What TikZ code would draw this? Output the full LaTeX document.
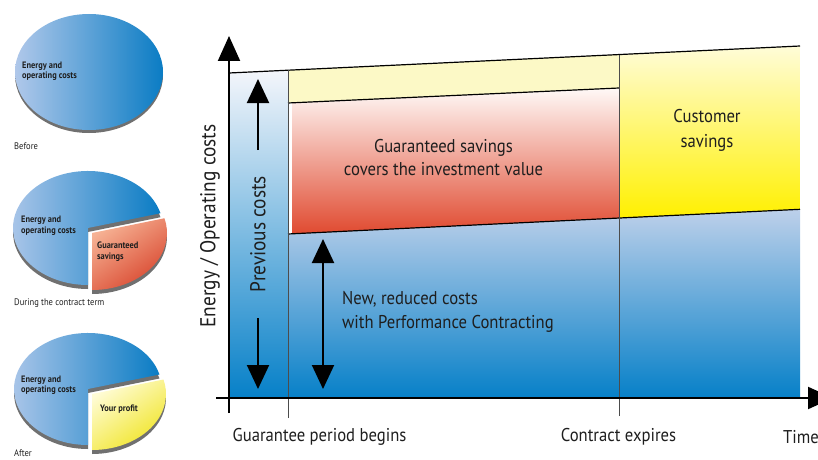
\documentclass[tikz,border=0pt]{standalone}
\usepackage{fontspec}
\setmainfont[FakeStretch=0.9]{PT Sans}
\usetikzlibrary{arrows.meta}
\definecolor{txt}{HTML}{1E1E1E}
\definecolor{blueTop}{HTML}{BDD0EA}
\definecolor{blueMid}{HTML}{8CADDD}
\definecolor{blueBot}{HTML}{0680C8}
\definecolor{stripTop}{HTML}{F4F6FB}
\definecolor{stripMid}{HTML}{B2C7E8}
\definecolor{redTop}{HTML}{FFF9F7}
\definecolor{redMid}{HTML}{F2B49A}
\definecolor{redBot}{HTML}{E04A30}
\definecolor{paleYel}{HTML}{FCF9C6}
\definecolor{yelTop}{HTML}{FFFCD8}
\definecolor{yelBot}{HTML}{FFF000}
\definecolor{pieL}{HTML}{B0C8EA}
\definecolor{pieR}{HTML}{0A7CC4}
\definecolor{pieShadow}{HTML}{707070}
\definecolor{sliceRedA}{HTML}{F6B294}
\definecolor{sliceRedB}{HTML}{D8442C}
\definecolor{sliceYelA}{HTML}{FFFCD6}
\definecolor{sliceYelB}{HTML}{F0E422}
\begin{document}
\begin{tikzpicture}[x=1pt,y=1pt,
  bigtext/.style={text=txt,font=\fontsize{18.5}{23}\selectfont,inner sep=0pt},
  vertext/.style={text=txt,font=\fontsize{21.5}{24}\selectfont,inner sep=0pt,rotate=90},
  pietext/.style={text=txt,font=\bfseries\fontsize{9.3}{10.5}\selectfont,inner sep=0pt,align=left,anchor=west},
  captext/.style={text=txt,font=\fontsize{9.5}{10}\selectfont,inner sep=0pt,anchor=west},
  boundary/.style={draw=black,line width=1.2pt},
  marker/.style={draw=black!70,line width=0.8pt},
  axis/.style={draw=black,line width=2pt,-{Triangle[length=25pt,width=22pt]}},
  costarrow/.style={draw=black,line width=2pt,-{Triangle[length=24pt,width=22pt]}},
  costdouble/.style={draw=black,line width=2pt,{Triangle[length=24pt,width=22pt]}-{Triangle[length=24pt,width=22pt]}}
]
\useasboundingbox (0,0) rectangle (818,459);
\clip (0,0) rectangle (818,459);

% ---------- chart regions ----------
\shade[top color=stripTop, middle color=stripMid, bottom color=blueBot]
  (229,61) -- (288,61) -- (288,388.8) -- (229,386) -- cycle;
\shade[top color=blueTop, middle color=blueMid, bottom color=blueBot]
  (288,61) -- (800,61) -- (800,249.7) -- (288,225) -- cycle;
\fill[white] (288,225) -- (619,241) -- (619,371) -- (288,356) -- cycle;
\shade[top color=redTop, middle color=redMid, bottom color=redBot]
  (292,225.2) -- (619,241) -- (619,371) -- (292,356.2) -- cycle;
\fill[paleYel] (288,356) -- (619,371) -- (619,404.4) -- (288,388.8) -- cycle;
\shade[top color=yelTop, bottom color=yelBot]
  (619,241) -- (800,249.7) -- (800,413) -- (619,404.4) -- cycle;

% ---------- boundaries ----------
\coordinate (tl) at (229,386);
\coordinate (tr) at (800,413);
\coordinate (rtl) at (288,356);
\coordinate (rtr) at (619,371);
\coordinate (btl) at (288,225);
\coordinate (btr) at (800,249.7);
\draw[boundary] (tl) -- (tr);
\draw[boundary] (rtl) -- (rtr);
\draw[boundary] (btl) -- (btr);
\coordinate (gb1) at (288,41);
\coordinate (gb2) at (288,388.8);
\coordinate (ce1) at (619,43);
\coordinate (ce2) at (619,404.4);
\draw[marker] (gb1) -- (gb2);
\draw[marker] (ce1) -- (ce2);

% ---------- axes ----------
\coordinate (yb) at (229,46);
\coordinate (yt) at (229,423);
\coordinate (xl) at (216,61);
\coordinate (xr) at (833,61);
\draw[axis] (yb) -- (yt);
\draw[axis] (xl) -- (xr);

% ---------- arrows ----------
\coordinate (pu1) at (258,309);
\coordinate (pu2) at (258,380);
\coordinate (pd1) at (258,141);
\coordinate (pd2) at (258,70);
\draw[costarrow] (pu1) -- (pu2);
\draw[costarrow] (pd1) -- (pd2);
\coordinate (nd1) at (323,70);
\coordinate (nd2) at (323,220);
\draw[costdouble] (nd1) -- (nd2);

% ---------- chart texts ----------
\node[vertext] (ylab) at (210,233) {Energy / Operating costs};
\node[vertext] (prev) at (258,225) {Previous costs};
\node[bigtext,align=center] (gs) at (443.5,301.5) {Guaranteed savings\\covers the investment value};
\node[bigtext,align=center,font=\fontsize{18.5}{25}\selectfont] (cs) at (707,328.5) {Customer\\savings};
\node[bigtext,align=left,anchor=west,font=\fontsize{18.5}{24}\selectfont] (nr) at (342,147) {New, reduced costs\\with Performance Contracting};
\node[bigtext] (gpb) at (319.5,22) {Guarantee period begins};
\node[bigtext] (cex) at (618.5,22) {Contract expires};
\node[bigtext,anchor=west] (time) at (783,22) {Time};

% ---------- pie 1 ----------
\fill[pieShadow] (89,384) ellipse [x radius=74, y radius=58];
\shade[left color=pieL, right color=pieR] (89,387) ellipse [x radius=74, y radius=58];
\node[pietext] (p1t) at (22,388) {Energy and\\operating costs};
\node[captext] (p1c) at (14,313) {Before};

% ---------- pie 2 ----------
\fill[pieShadow] (88,227) -- ++(15:75 and 57) arc[start angle=15, end angle=270, x radius=75, y radius=57] -- cycle;
\shade[left color=pieL, right color=pieR] (88,231) -- ++(15:75 and 57) arc[start angle=15, end angle=270, x radius=75, y radius=57] -- cycle;
\fill[pieShadow] (92,222) -- ++(-90:75 and 57) arc[start angle=-90, end angle=15, x radius=75, y radius=57] -- cycle;
\shade[top color=sliceRedA, bottom color=sliceRedB, shading angle=35] (92,226) -- ++(-90:75 and 57) arc[start angle=-90, end angle=15, x radius=75, y radius=57] -- cycle;
\node[pietext] (p2t) at (21,233.5) {Energy and\\operating costs};
\node[pietext] (p2s) at (97,207.5) {Guaranteed\\savings};
\node[captext] (p2c) at (14,156) {During the contract term};

% ---------- pie 3 ----------
\fill[pieShadow] (88,66) -- ++(15:74 and 56) arc[start angle=15, end angle=270, x radius=74, y radius=56] -- cycle;
\shade[left color=pieL, right color=pieR] (88,70) -- ++(15:74 and 56) arc[start angle=15, end angle=270, x radius=74, y radius=56] -- cycle;
\fill[pieShadow] (92,61) -- ++(-90:74 and 56) arc[start angle=-90, end angle=15, x radius=74, y radius=56] -- cycle;
\shade[top color=sliceYelA, bottom color=sliceYelB, shading angle=35] (92,65) -- ++(-90:74 and 56) arc[start angle=-90, end angle=15, x radius=74, y radius=56] -- cycle;
\node[pietext] (p3t) at (21,74) {Energy and\\operating costs};
\node[pietext] (p3s) at (100,50) {Your profit};
\node[captext] (p3c) at (14,6) {After};
\end{tikzpicture}
\end{document}
